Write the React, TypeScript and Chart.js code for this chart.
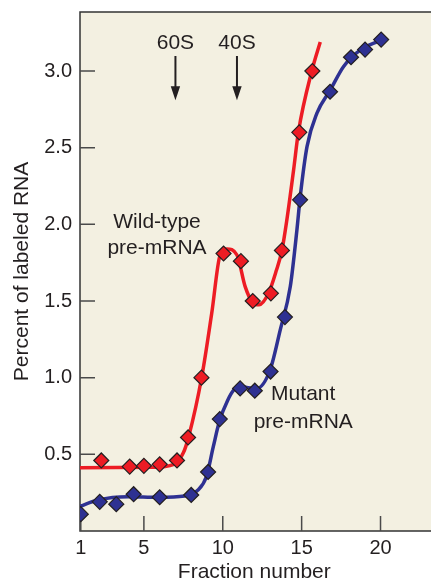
import React, { useEffect, useRef } from "react";
import { Chart, registerables } from "chart.js";

Chart.register(...registerables);

// Axis ticks
const fractionTicks = [1, 5, 10, 15, 20];
const percentTicks = [0.5, 1.0, 1.5, 2.0, 2.5, 3.0];

// Measured points (diamonds)
const wildTypeX = [2.3, 4.1, 5.0, 6.0, 7.1, 7.8, 8.65, 10.05, 11.15, 11.9, 13.05, 13.75, 14.85, 15.68];
const wildTypeY = [0.46, 0.42, 0.425, 0.435, 0.46, 0.61, 1.0, 1.81, 1.76, 1.5, 1.55, 1.83, 2.6, 3.0];
const mutantX = [1.0, 2.2, 3.25, 4.35, 6.0, 8.0, 9.07, 9.81, 11.1, 12.03, 13.03, 13.94, 14.9, 16.8, 18.13, 19.02, 20.04];
const mutantY = [0.11, 0.19, 0.175, 0.24, 0.22, 0.235, 0.385, 0.73, 0.93, 0.915, 1.04, 1.395, 2.16, 2.865, 3.09, 3.14, 3.205];

// Fitted curves
const wildTypeCurveX = [0.94, 5.5, 6.9, 7.5, 7.85, 8.67, 9.3, 9.83, 10.25, 10.9, 11.42, 11.9, 12.3, 12.9, 13.4, 13.75, 14.05, 14.49, 14.8, 15.66, 16.18];
const wildTypeCurveY = [0.413, 0.415, 0.435, 0.51, 0.62, 1.006, 1.42, 1.8, 1.84, 1.8, 1.594, 1.49, 1.475, 1.55, 1.7, 1.83, 2.02, 2.355, 2.605, 3.007, 3.19];
const mutantCurveX = [0.94, 2.08, 3.99, 5.89, 7.59, 8.43, 8.96, 9.4, 9.8, 10.3, 10.7, 11.1, 11.6, 12.16, 13.0, 13.64, 14.28, 14.7, 14.91, 15.34, 15.97, 16.82, 17.66, 18.73, 20.0];
const mutantCurveY = [0.16, 0.202, 0.224, 0.22, 0.228, 0.267, 0.354, 0.55, 0.72, 0.85, 0.92, 0.945, 0.935, 0.93, 1.05, 1.31, 1.594, 1.963, 2.18, 2.507, 2.725, 2.877, 3.03, 3.138, 3.2];

// Annotations
const sedimentLabels = ["60S", "40S"];
const sedimentFractions = [7, 10.9];
const wildTypeLabel = ["Wild-type", "pre-mRNA"];
const mutantLabel = ["Mutant", "pre-mRNA"];
const xTitle = "Fraction number";
const yTitle = "Percent of labeled RNA";

const FONT = "'Liberation Sans', Arial, Helvetica, sans-serif";
const TEXT = "#231f20";
const RED = "#ed1c24";
const BLUE = "#2e3192";

const toPts = (xs: number[], ys: number[]) => xs.map((x, i) => ({ x, y: ys[i] }));

const decor = {
  id: "decor",
  beforeDraw(chart: any) {
    const { ctx, chartArea: a } = chart;
    ctx.save();
    ctx.fillStyle = "#f3f0e1";
    ctx.fillRect(a.left, a.top, a.right - a.left, a.bottom - a.top);
    ctx.restore();
  },
  beforeDatasetsDraw(chart: any) {
    const { ctx, chartArea: a, scales } = chart;
    const x = scales.x;
    const y = scales.y;
    ctx.save();
    // frame: top, left, bottom
    ctx.strokeStyle = "#333";
    ctx.lineWidth = 1.5;
    ctx.beginPath();
    ctx.moveTo(a.right, a.top);
    ctx.lineTo(a.left, a.top);
    ctx.lineTo(a.left, a.bottom);
    ctx.lineTo(a.right, a.bottom);
    ctx.stroke();
    // inward tick marks
    ctx.strokeStyle = "#4a4a4a";
    ctx.lineWidth = 1.5;
    ctx.beginPath();
    fractionTicks.forEach((v) => {
      const px = x.getPixelForValue(v);
      ctx.moveTo(px, a.bottom);
      ctx.lineTo(px, a.bottom - 15);
    });
    percentTicks.forEach((v) => {
      const py = y.getPixelForValue(v);
      ctx.moveTo(a.left, py);
      ctx.lineTo(a.left + 15, py);
    });
    ctx.stroke();

    // sedimentation markers
    ctx.fillStyle = TEXT;
    ctx.strokeStyle = TEXT;
    ctx.font = `21px ${FONT}`;
    ctx.textAlign = "center";
    ctx.textBaseline = "middle";
    sedimentLabels.forEach((lab, i) => {
      const px = x.getPixelForValue(sedimentFractions[i]);
      ctx.fillText(lab, px, y.getPixelForValue(3.183));
      const y0 = y.getPixelForValue(3.098);
      const y1 = y.getPixelForValue(2.81);
      ctx.lineWidth = 2;
      ctx.beginPath();
      ctx.moveTo(px, y0);
      ctx.lineTo(px, y1 - 10);
      ctx.stroke();
      ctx.beginPath();
      ctx.moveTo(px - 4.7, y1 - 14);
      ctx.lineTo(px + 4.7, y1 - 14);
      ctx.lineTo(px, y1);
      ctx.closePath();
      ctx.fill();
    });

    // series labels
    const wx = x.getPixelForValue(5.83);
    ctx.fillText(wildTypeLabel[0], wx, y.getPixelForValue(2.012));
    ctx.fillText(wildTypeLabel[1], wx, y.getPixelForValue(1.845));
    const mx = x.getPixelForValue(15.1);
    ctx.fillText(mutantLabel[0], mx, y.getPixelForValue(0.894));
    ctx.fillText(mutantLabel[1], mx, y.getPixelForValue(0.711));

    // x axis title
    ctx.fillText(xTitle, x.getPixelForValue(12.0), 572);
    ctx.restore();
  },
};

export default function App() {
  const canvasRef = useRef<HTMLCanvasElement | null>(null);

  useEffect(() => {
    if (!canvasRef.current) return;
    const markerStyle = {
      showLine: false,
      pointStyle: "rectRot",
      pointRadius: 7.5,
      pointBorderWidth: 1.2,
      pointBorderColor: "#231f20",
      order: 0,
    };
    const curveStyle = {
      showLine: true,
      pointRadius: 0,
      borderWidth: 3.5,
      cubicInterpolationMode: "monotone",
      order: 1,
    };
    const chart = new Chart(canvasRef.current, {
      type: "scatter",
      data: {
        datasets: [
          { ...markerStyle, label: "Wild-type", data: toPts(wildTypeX, wildTypeY), pointBackgroundColor: RED, backgroundColor: RED } as any,
          { ...markerStyle, label: "Mutant", data: toPts(mutantX, mutantY), pointBackgroundColor: BLUE, backgroundColor: BLUE } as any,
          { ...curveStyle, label: "Wild-type fit", data: toPts(wildTypeCurveX, wildTypeCurveY), borderColor: RED } as any,
          { ...curveStyle, label: "Mutant fit", data: toPts(mutantCurveX, mutantCurveY), borderColor: BLUE } as any,
        ],
      },
      options: {
        animation: false,
        responsive: false,
        maintainAspectRatio: false,
        devicePixelRatio: 1,
        layout: { autoPadding: false, padding: { top: 12, right: 0, left: 0, bottom: 0 } },
        plugins: { legend: { display: false }, tooltip: { enabled: false } },
        scales: {
          x: {
            type: "linear",
            min: 0.95,
            max: 23.2,
            afterBuildTicks: (s: any) => {
              s.ticks = fractionTicks.map((v) => ({ value: v }));
            },
            afterFit: (s: any) => {
              s.height = 52;
              s.paddingLeft = 0;
              s.paddingRight = 0;
            },
            grid: { display: false, drawTicks: false },
            border: { display: false },
            ticks: {
              padding: 5,
              autoSkip: false,
              maxRotation: 0,
              color: TEXT,
              font: { family: FONT, size: 20 },
              callback: (v: any) => String(v),
            },
            title: { display: false },
          },
          y: {
            type: "linear",
            min: 0,
            max: 3.385,
            afterBuildTicks: (s: any) => {
              s.ticks = percentTicks.map((v) => ({ value: v }));
            },
            afterFit: (s: any) => {
              s.width = 80;
              s.paddingTop = 0;
              s.paddingBottom = 0;
            },
            grid: { display: false, drawTicks: false },
            border: { display: false },
            ticks: {
              padding: 8,
              color: TEXT,
              font: { family: FONT, size: 20 },
              callback: (v: any) => Number(v).toFixed(1),
            },
            title: {
              display: true,
              text: yTitle,
              color: TEXT,
              font: { family: FONT, size: 21, lineHeight: 1.2 },
              padding: { top: 10, bottom: 0 },
            },
          },
        },
      } as any,
      plugins: [decor],
    });
    return () => chart.destroy();
  }, []);

  return (
    <div style={{ position: "fixed", left: 0, top: 0, width: 431, height: 583, background: "#fff" }}>
      <canvas ref={canvasRef} width={431} height={583} style={{ display: "block", width: 431, height: 583 }} />
    </div>
  );
}
